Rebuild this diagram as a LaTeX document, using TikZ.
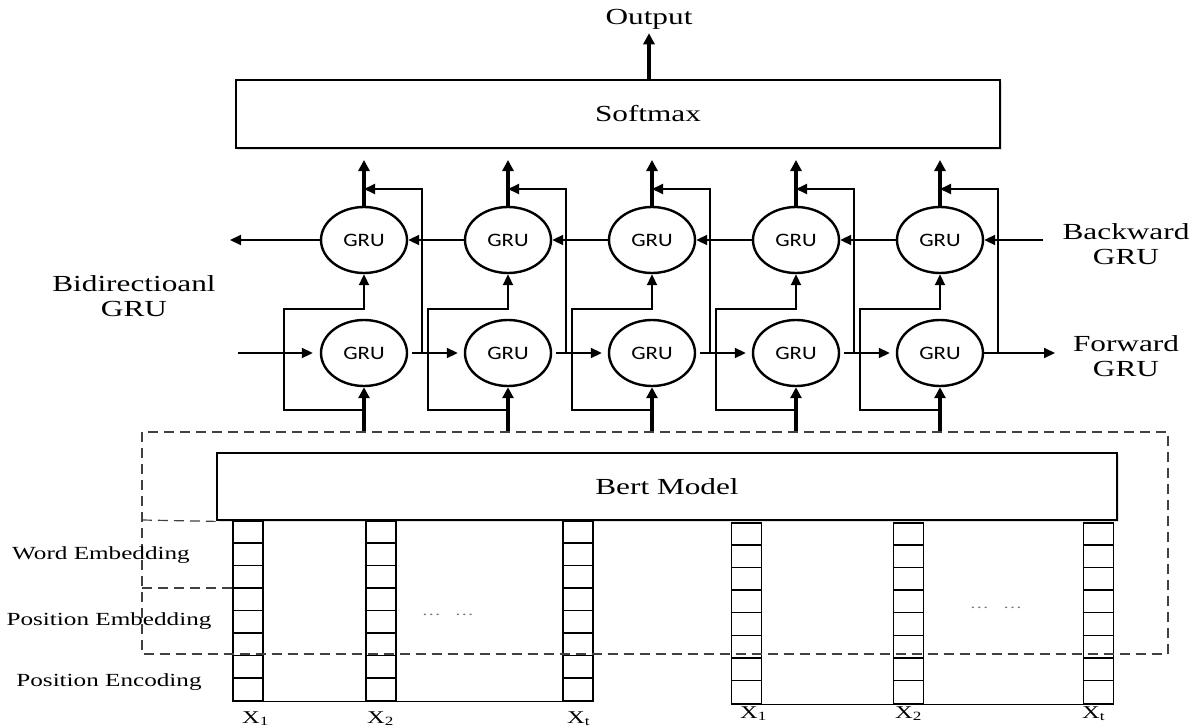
\documentclass[tikz,border=0pt]{standalone}
\usepackage{fontspec}
\setmainfont[FakeStretch=1.36]{Liberation Serif}
\newfontfamily\grufont[FakeStretch=1.2]{Carlito}
\usetikzlibrary{arrows.meta, shapes.geometric, shadows}

\begin{document}
\begin{tikzpicture}[x=1pt, y=-1pt,
    gru/.style = {draw, ellipse, line width=2.4pt, minimum width=86pt, minimum height=66pt, inner sep=0pt, font=\grufont\fontsize{19}{19}\selectfont},
    layer/.style = {draw, line width=2.8pt, fill=white, inner sep=0pt, drop shadow={shadow xshift=2pt, shadow yshift=-2pt, opacity=.25}, font=\fontsize{23}{25}\selectfont},
    big/.style = {line width=3.6pt, -{Triangle[length=11pt, width=11pt]}},
    arr/.style = {line width=2pt, -{Triangle[length=11pt, width=10pt]}},
    link/.style = {line width=1.6pt},
    dashbox/.style = {draw=black!75, line width=1.2pt, dash pattern=on 10pt off 6pt},
    txt/.style = {font=\fontsize{23}{25}\selectfont, align=center, inner sep=0pt},
    side/.style = {font=\fontsize{18.5}{20}\selectfont, inner sep=0pt},
    vec/.style = {draw, line width=1.4pt, inner sep=0pt},
    xlab/.style = {font=\fontsize{18}{18}\selectfont, inner sep=0pt, anchor=base west},
    dots/.style = {font=\fontsize{14}{14}\selectfont, text=black!55, inner sep=0pt}
]
\useasboundingbox (0,0) rectangle (1200,728);

% top
\node[txt] (out) at (649,19) {Output};
\node[layer, minimum width=764pt, minimum height=68pt, label={[txt, xshift=30pt]center:Softmax}] (soft) at (618,114) {};
\draw[big, shorten >=4pt] (soft.north -| out) -- (out.south);

% bidirectional GRU
\foreach \i in {1,...,5}{
    \pgfmathsetmacro\cx{364+144*(\i-1)}
    \node[gru] (b\i) at (\cx,240) {GRU};
    \node[gru] (f\i) at (\cx,353) {GRU};
    \coordinate (top\i) at (\cx,160);
    \coordinate (mg\i) at (\cx,189);
    \coordinate (in\i) at (\cx,432);
    \coordinate (sp\i) at (\cx,410);
    \coordinate (fb\i) at (\cx+58,353);
    \draw[big] (b\i) -- (top\i);
    \draw[big] (in\i) -- (f\i);
    \draw[arr] (sp\i) -- ++(-80,0) -- ++(0,-101) -| (b\i.south);
    \draw[arr] (fb\i) |- (mg\i);
}
\foreach \i/\j in {1/2, 2/3, 3/4, 4/5}{
    \draw[arr, shorten <=4pt, shorten >=6pt] (f\i) -- (f\j);
    \draw[arr] (b\j) -- (b\i);
}
\coordinate (fin) at (238,353);
\coordinate (fout) at (1055,353);
\coordinate (bin) at (1043,240);
\coordinate (bout) at (230,240);
\draw[arr, shorten >=7pt] (fin) -- (f1);
\draw[arr] (f5) -- (fout);
\draw[arr] (bin) -- (b5);
\draw[arr] (b1) -- (bout);

\node[txt] (bidir) at (134,296) {Bidirectioanl\\GRU};
\node[txt] (bwd) at (1126,244) {Backward\\GRU};
\node[txt] (fwd) at (1126,356) {Forward\\GRU};

% bert + embeddings
\node[layer, minimum width=900pt, minimum height=67pt] (bert) at (667,486.5) {Bert Model};

\foreach \x/\n/\lx in {248/1/242, 381/2/367, 578/t/567}{
    \node[vec, minimum width=30pt, minimum height=180pt] (l\n) at (\x,611) {};
    \foreach \j in {1,...,7}
        \draw[link, line width=1.4pt] (l\n.north west) ++(0,22.5*\j) -- ++(30,0);
    \node[xlab] (xl\n) at (\lx,723) {X\textsubscript{\n}};
}
\foreach \x/\n/\lx in {746.5/1/740, 908.5/2/895, 1098.5/t/1082}{
    \node[vec, minimum width=29.5pt, minimum height=181pt] (r\n) at (\x,613.5) {};
    \foreach \j in {1,...,7}
        \draw[link, line width=1.4pt] (r\n.north west) ++(0,22.6*\j) -- ++(29.5,0);
    \node[xlab] (xr\n) at (\lx,718) {X\textsubscript{\n}};
}
\draw[link, line width=1.4pt] (l1.south east) -- (l2.south west) (l2.south east) -- (lt.south west);
\draw[link, line width=1.4pt] (r1.south east) -- (r2.south west) (r2.south east) -- (rt.south west);
\node[dots] (dl) at (448,615) {…\hspace{14pt}…};
\node[dots] (dr) at (996,608) {…\hspace{14pt}…};

\draw[dashbox] (142,432) rectangle (1168,654);
\draw[dashbox] (142,520) -- (bert.south west);
\draw[dashbox] (142,588) -- (233,588);

\node[side] (we) at (101,555) {Word Embedding};
\node[side] (pe) at (109,621) {Position Embedding};
\node[side] (pc) at (109,682) {Position Encoding};
\end{tikzpicture}
\end{document}
